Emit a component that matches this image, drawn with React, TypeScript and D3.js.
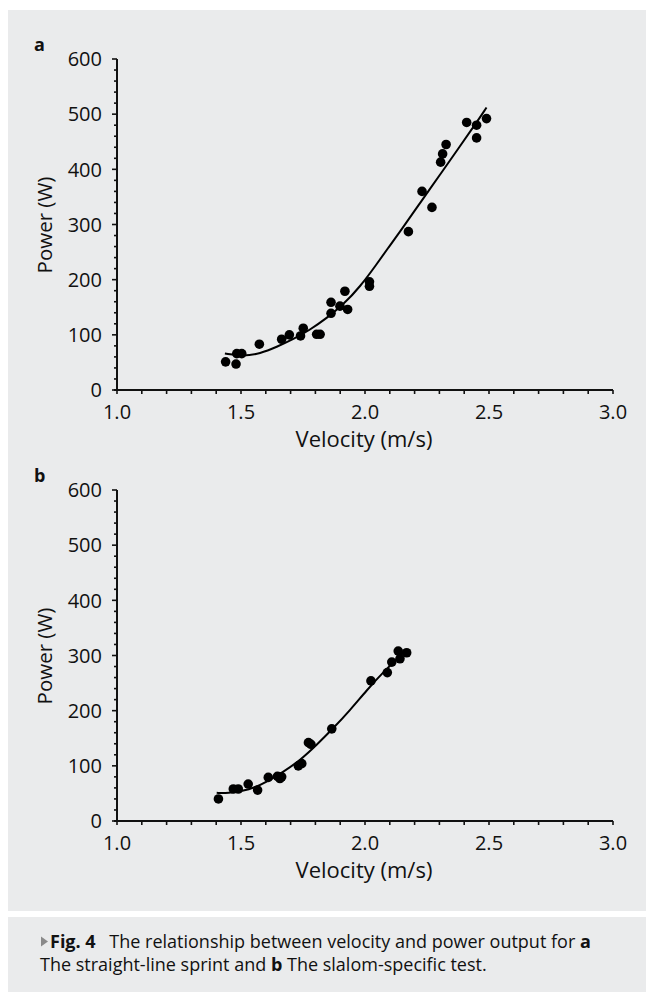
import React from "react";
import * as d3 from "d3";

// ---- Data ----
const velocityA = [1.438, 1.48, 1.483, 1.503, 1.574, 1.664, 1.695, 1.74, 1.751, 1.805, 1.819, 1.863, 1.863, 1.899, 1.93, 1.919, 2.018, 2.018, 2.175, 2.23, 2.27, 2.305, 2.313, 2.327, 2.41, 2.45, 2.45, 2.49];
const powerA = [51, 47, 66, 66, 83, 92, 100, 98, 112, 101, 101, 139, 159, 152, 146, 179, 196, 188, 287, 360, 331, 413, 428, 445, 485, 480, 457, 492];
const fitA_v = [1.435, 1.509, 1.577, 1.644, 1.711, 1.778, 1.845, 1.913, 1.98, 2.047, 2.094, 2.141, 2.222, 2.302, 2.383, 2.45, 2.49];
const fitA_p = [66, 61, 66, 78, 92, 109, 130, 155, 187, 228, 258, 287, 339, 390, 442, 485, 512];

const velocityB = [1.409, 1.469, 1.489, 1.529, 1.567, 1.61, 1.647, 1.657, 1.664, 1.731, 1.745, 1.772, 1.782, 1.866, 2.024, 2.09, 2.108, 2.134, 2.141, 2.168];
const powerB = [40, 58, 58, 67, 56, 79, 81, 77, 80, 100, 104, 142, 139, 167, 254, 269, 288, 308, 294, 305];
const fitB_v = [1.402, 1.442, 1.536, 1.603, 1.671, 1.738, 1.805, 1.872, 1.94, 2.007, 2.074, 2.141, 2.161];
const fitB_p = [51, 50, 56, 71, 89, 110, 138, 168, 201, 237, 270, 299, 307];

const xTickLabels = [1.0, 1.5, 2.0, 2.5, 3.0];
const yTickLabels = [0, 100, 200, 300, 400, 500, 600];
const panelLetters = ["a", "b"];

const FONT = "'Open Sans', 'Noto Sans', sans-serif";
const BG = "#eaebec";

function Panel({ top, letter, vel, pow, fv, fp }: any) {
  const x = d3.scaleLinear().domain([1, 3]).range([117, 613]);
  const y = d3.scaleLinear().domain([0, 600]).range([top + 331, top]);
  const xMinor = d3.range(0, 21).map((i) => 1 + i * 0.1);
  const yMinor = d3.range(0, 31).map((i) => i * 20);
  const line = d3
    .line<number>()
    .x((_, i) => x(fv[i]))
    .y((d) => y(d))
    .curve(d3.curveBasis);
  const x0 = x(1);
  const yBase = y(0);
  return (
    <g>
      <text x={34} y={top - 8} fontFamily={FONT} fontWeight="bold" fontSize={18} fill="#111">
        {letter}
      </text>
      {/* axes */}
      <line x1={x0 - 3} x2={x(3)} y1={yBase} y2={yBase} stroke="#111" strokeWidth={2} />
      <line x1={x0} x2={x0} y1={yBase} y2={y(600)} stroke="#111" strokeWidth={2} />
      {xMinor.map((v, i) => (
        <line key={"xt" + i} x1={x(v)} x2={x(v)} y1={yBase} y2={yBase + 4} stroke="#111" strokeWidth={1.6} />
      ))}
      {yMinor.map((v, i) => (
        <line
          key={"yt" + i}
          x1={x0}
          x2={x0 - (v % 100 === 0 ? 5 : 3)}
          y1={y(v)}
          y2={y(v)}
          stroke="#111"
          strokeWidth={1.6}
        />
      ))}
      {xTickLabels.map((v) => (
        <text key={"xl" + v} x={x(v)} y={yBase + 29} textAnchor="middle" fontFamily={FONT} fontSize={20} fill="#111">
          {v.toFixed(1)}
        </text>
      ))}
      {yTickLabels.map((v) => (
        <text key={"yl" + v} x={102} y={y(v)} dy="0.36em" textAnchor="end" fontFamily={FONT} fontSize={20} fill="#111">
          {v}
        </text>
      ))}
      <text x={364} y={yBase + 57} textAnchor="middle" fontFamily={FONT} fontSize={22} fill="#111">
        Velocity (m/s)
      </text>
      <text
        transform={`translate(52,${top + 166}) rotate(-90)`}
        textAnchor="middle"
        fontFamily={FONT}
        fontSize={20.5}
        fill="#111"
      >
        Power (W)
      </text>
      {/* points */}
      {vel.map((v: number, i: number) => (
        <circle key={"p" + i} cx={x(v)} cy={y(pow[i])} r={4.8} fill="#000" />
      ))}
      <path d={line(fp) || ""} fill="none" stroke="#000" strokeWidth={2} />
    </g>
  );
}

export default function App() {
  return (
    <svg
      width={646}
      height={992}
      style={{ position: "absolute", left: 0, top: 0, background: "#fff" }}
    >
      <rect x={8} y={10} width={638} height={901} fill={BG} />
      <rect x={8} y={917} width={638} height={75} fill={BG} />
      <Panel top={59} letter={panelLetters[0]} vel={velocityA} pow={powerA} fv={fitA_v} fp={fitA_p} />
      <Panel top={490} letter={panelLetters[1]} vel={velocityB} pow={powerB} fv={fitB_v} fp={fitB_p} />
      <path d="M41,936.5 L48,941.5 L41,946.5 Z" fill="#8a8a8a" />
      <text x={50} y={948} fontFamily={FONT} fontSize={18} fill="#111">
        <tspan fontWeight="bold">Fig. 4</tspan>
        <tspan>{"\u2002 The relationship between velocity and power output for "}</tspan>
        <tspan fontWeight="bold">a</tspan>
      </text>
      <text x={40} y={971} fontFamily={FONT} fontSize={18} fill="#111">
        <tspan>{"The straight-line sprint and "}</tspan>
        <tspan fontWeight="bold">b</tspan>
        <tspan>{" The slalom-specific test."}</tspan>
      </text>
    </svg>
  );
}
